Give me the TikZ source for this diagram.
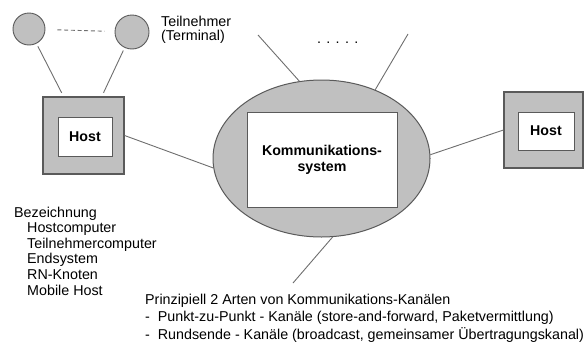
\documentclass[tikz,border=0pt]{standalone}
\usepackage{fontspec}
\setmainfont{Liberation Sans}
\usetikzlibrary{shapes.geometric}
\definecolor{fillgray}{HTML}{C0C0C0}
\definecolor{linegray}{HTML}{6E6E6E}
\definecolor{edgegray}{HTML}{5A5A5A}
\begin{document}
\begin{tikzpicture}[x=1pt,y=-1pt,
 conn/.style={draw=linegray, line width=0.9pt},
 term/.style={circle, draw=edgegray, fill=fillgray, line width=0.9pt, minimum size=32pt, inner sep=0pt},
 hostouter/.style={rectangle, draw=edgegray, fill=fillgray, line width=1.2pt, inner sep=0pt},
 hostinner/.style={rectangle, draw=edgegray, fill=white, line width=1pt, inner sep=0pt, align=center, font=\fontsize{14.2}{16}\selectfont\bfseries},
 lbl/.style={anchor=base west, inner sep=0pt, font=\fontsize{14.3}{16}\selectfont},
]
\useasboundingbox (0,0) rectangle (585,343);
% terminals
\node[term] (t1) at (29,29) {};
\node[term, minimum size=34pt] (t2) at (132,32) {};
% left host
\node[hostouter, minimum width=81pt, minimum height=77pt] (hostL) at (83.5,135.5) {};
\node[hostinner, minimum width=54pt, minimum height=39pt] (hostLi) at (85,136.5) {Host};
% right host
\node[hostouter, minimum width=79pt, minimum height=76pt] (hostR) at (543.5,130) {};
\node[hostinner, minimum width=56pt, minimum height=38pt] (hostRi) at (546,131) {Host};
% communication system
\node[ellipse, draw=edgegray, fill=fillgray, line width=1pt, minimum width=217pt, minimum height=157pt, inner sep=0pt] (ks) at (321.5,158.5) {};
\node[hostinner, minimum width=150pt, minimum height=95pt] (ksi) at (322,159.5) {Kommunikations-\\system};
% free ends
\coordinate (c1) at (258,35);
\coordinate (c2) at (408,34);
\coordinate (c3) at (293,283);
% connectors
\draw[conn, dash pattern=on 4pt off 2.7pt, shorten <=12pt, shorten >=10pt] (t1) -- (t2);
\draw[conn, shorten <=3pt, shorten >=4pt] (t1) -- (hostL);
\draw[conn, shorten <=3pt, shorten >=4pt] (t2) -- (hostL);
\draw[conn] (hostL.east) -- (ks.185);
\draw[conn] (ks.2) -- (hostR.west);
\draw[conn] (c1) -- (ks.106);
\draw[conn] (c2) -- (ks.52.6);
\draw[conn] (ks.278) -- (c3);
% labels
\node[lbl] (tn1) at (161,26) {Teilnehmer};
\node[lbl] (tn2) at (161,40) {(Terminal)};
\node[lbl] (dots) at (317,43.5) {. . . . .};
\node[lbl] (b0) at (14,217) {Bezeichnung};
\node[lbl] (b1) at (27,232.5) {Hostcomputer};
\node[lbl] (b2) at (27,248) {Teilnehmercomputer};
\node[lbl] (b3) at (27,263.5) {Endsystem};
\node[lbl] (b4) at (27,279.5) {RN-Knoten};
\node[lbl] (b5) at (27,295) {Mobile Host};
\node[lbl] (p0) at (145,304) {Prinzipiell 2 Arten von Kommunikations-Kanälen};
\node[lbl] (p1) at (145,321.5) {-\ \ Punkt-zu-Punkt - Kanäle (store-and-forward, Paketvermittlung)};
\node[lbl] (p2) at (145,339) {-\ \ Rundsende - Kanäle (broadcast, gemeinsamer Übertragungskanal)};
\end{tikzpicture}
\end{document}
